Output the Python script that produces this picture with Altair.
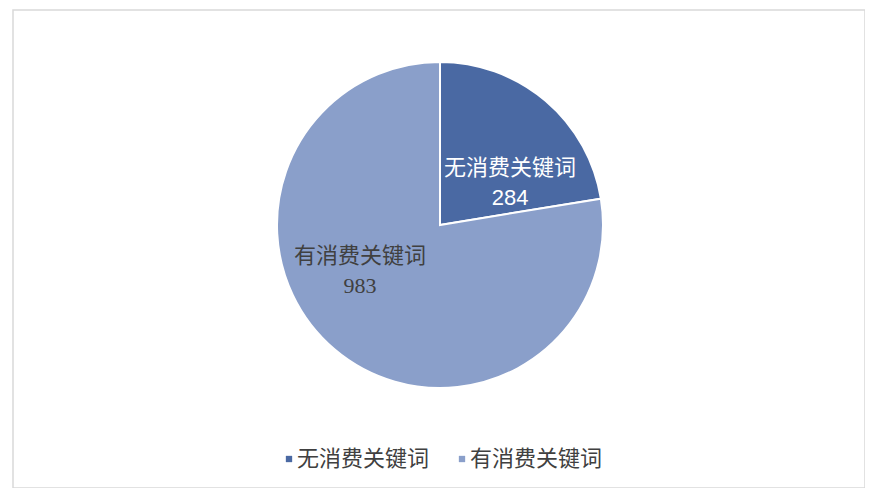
import altair as alt
import pandas as pd

# donnees
categories = ['无消费关键词', '有消费关键词']
valeurs = [284, 983]
couleurs = ['#4a69a3', '#8a9fca']

df = pd.DataFrame({'categorie': categories, 'valeur': valeurs, 'ordre': [0, 1]})

base = alt.Chart(df).encode(
    theta=alt.Theta('valeur:Q', stack=True),
    order=alt.Order('ordre:Q'))

camembert = base.mark_arc(outerRadius=163, stroke='white', strokeWidth=2).encode(
    x=alt.value(427), y=alt.value(215),
    color=alt.Color('categorie:N', sort=categories,
                    scale=alt.Scale(domain=categories, range=couleurs),
                    legend=alt.Legend(title=None, orient='none', direction='horizontal',
                                      legendX=265, legendY=438, symbolType='square',
                                      symbolSize=40, symbolStrokeWidth=0,
                                      labelOffset={'expr': '-3'},
                                      columnPadding=21, labelFont='Noto Sans CJK SC',
                                      labelFontSize=22, labelColor='#404040')))

def etiquette(cat, champ, dx, dy, couleur, police):
    """texte place au milieu de la part (cumul calcule avant le filtre), decale de dx/dy"""
    return alt.Chart(df).transform_window(
        cumul='sum(valeur)', sort=[alt.SortField('ordre')]
    ).transform_calculate(
        milieu='datum.cumul - datum.valeur / 2'
    ).transform_filter(alt.datum.categorie == cat).mark_text(
        radius=85, dx=dx, dy=dy, fontSize=22, font=police, color=couleur).encode(
        theta=alt.Theta('milieu:Q', stack=None),
        x=alt.value(427), y=alt.value(215), text=champ)

textes = [
    etiquette(categories[0], 'categorie:N', 15, 8, 'white', 'Noto Sans CJK SC'),
    etiquette(categories[0], 'valeur:Q', 15, 38, 'white', 'Liberation Sans'),
    etiquette(categories[1], 'categorie:N', -25, -34, '#404040', 'Noto Sans CJK SC'),
    etiquette(categories[1], 'valeur:Q', -25, -4, '#404040', 'Liberation Serif'),
]

chart = alt.layer(camembert, *textes).properties(
    width=852, height=478,
    autosize=alt.AutoSizeParams(type='none'),
    padding={'left': 5, 'top': 2, 'right': 0, 'bottom': 0},
).configure_view(stroke='#d9d9d9', strokeWidth=1.5)

chart.save("out.html", embed_options={"renderer": "svg", "actions": False})
